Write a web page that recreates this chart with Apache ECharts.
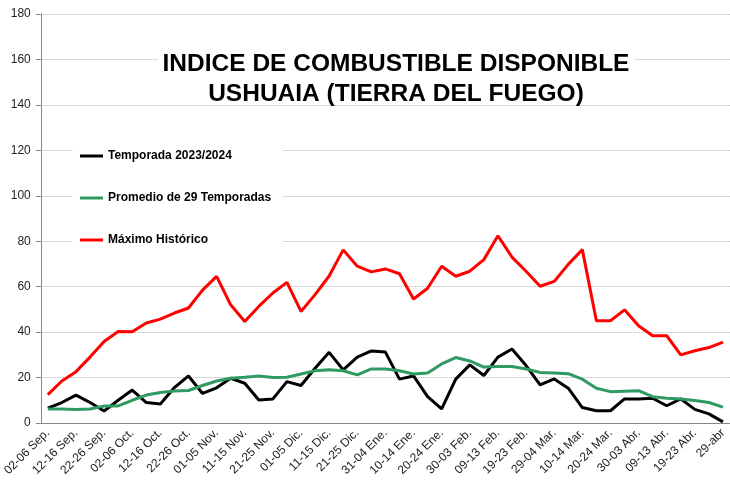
<!DOCTYPE html>
<html>
<head>
<meta charset="utf-8">
<script src="https://cdn.jsdelivr.net/npm/echarts@6/dist/echarts.min.js"></script>
<style>
  html, body { margin: 0; padding: 0; background: #fff; }
  #chart { width: 730px; height: 485px; }
</style>
</head>
<body>
<div id="chart"></div>
<script>
// 5-day periods, Sep 2023 -> Apr 2024
const periods = [
  '02-06 Sep.', '07-11 Sep.', '12-16 Sep.', '17-21 Sep.', '22-26 Sep.', '27-01 Oct.',
  '02-06 Oct.', '07-11 Oct.', '12-16 Oct.', '17-21 Oct.', '22-26 Oct.', '27-31 Oct.',
  '01-05 Nov.', '06-10 Nov.', '11-15 Nov.', '16-20 Nov.', '21-25 Nov.', '26-30 Nov.',
  '01-05 Dic.', '06-10 Dic.', '11-15 Dic.', '16-20 Dic.', '21-25 Dic.', '26-30 Dic.',
  '31-04 Ene.', '05-09 Ene.', '10-14 Ene.', '15-19 Ene.', '20-24 Ene.', '25-29 Ene.',
  '30-03 Feb.', '04-08 Feb.', '09-13 Feb.', '14-18 Feb.', '19-23 Feb.', '24-28 Feb.',
  '29-04 Mar.', '05-09 Mar.', '10-14 Mar.', '15-19 Mar.', '20-24 Mar.', '25-29 Mar.',
  '30-03 Abr.', '04-08 Abr.', '09-13 Abr.', '14-18 Abr.', '19-23 Abr.', '24-28 Abr.',
  '29-abr'
];

const temporada = [
  6.5, 9, 12.3, 9, 5.3, 10, 14.5, 9, 8.4, 15.6, 20.7, 13,
  15.5, 19.7, 17.5, 10.1, 10.6, 18.2, 16.5, 24.1, 31.1, 23.4, 29, 31.7,
  31.2, 19.3, 20.7, 11.6, 6.2, 19.3, 25.6, 20.9, 29, 32.6, 25.3, 16.8,
  19.4, 15.3, 6.8, 5.4, 5.4, 10.6, 10.6, 10.9, 7.6, 10.6, 6, 4, 0.5
];

const promedio = [
  6.2, 6.2, 5.9, 6.2, 7.5, 7.5, 10, 12.3, 13.4, 14.1, 14.3, 16.5,
  18.5, 19.7, 20.1, 20.7, 20, 20.1, 21.6, 23, 23.4, 23, 21.2, 23.8,
  23.8, 23, 21.6, 22, 26, 28.8, 27.3, 24.6, 24.9, 24.9, 23.8, 22.2,
  22, 21.7, 19.3, 15.3, 13.8, 14, 14.2, 11.6, 10.9, 10.6, 9.9, 9, 7
];

const maximo = [
  12.5, 18.5, 22.6, 29, 35.9, 40.3, 40.2, 44, 45.7, 48.4, 50.6, 58.5,
  64.5, 52, 44.7, 51.3, 57.2, 61.9, 49.1, 56.5, 64.7, 76.2, 69, 66.5,
  67.8, 65.7, 54.6, 59.3, 69, 64.6, 66.8, 71.9, 82.4, 73, 66.8, 60.2,
  62.3, 69.8, 76.3, 45, 45, 49.8, 42.8, 38.4, 38.4, 30, 31.8, 33.2, 35.6
];

const yTicks = { min: 0, max: 180, interval: 20 };

const FONT = "'Liberation Sans', Arial, sans-serif";
const AXIS_GREY = '#868686';

function lineSeries(name, data, color) {
  return {
    name, type: 'line', data,
    symbol: 'none',
    lineStyle: { color, width: 3 },
    itemStyle: { color },
    emphasis: { disabled: true },
    animation: false,
  };
}

function titleLine(text, top, bg) {
  return {
    text, left: 391, top, textAlign: 'center',
    backgroundColor: bg ? '#fff' : 'transparent',
    padding: [3, 5, 1, 5],
    textStyle: { fontFamily: FONT, fontSize: 24.5, fontWeight: 'bold', color: '#000', lineHeight: 28 },
  };
}

const chart = echarts.init(document.getElementById('chart'), null, { renderer: 'canvas' });
chart.setOption({
  backgroundColor: '#fff',
  textStyle: { fontFamily: FONT },
  title: [
    titleLine('INDICE DE COMBUSTIBLE DISPONIBLE', 47, true),
    titleLine('USHUAIA (TIERRA DEL FUEGO)', 77, false),
  ],
  legend: {
    orient: 'vertical',
    left: 73, top: 138,
    padding: [12, 11, 12, 7],
    backgroundColor: '#fff',
    icon: 'rect',
    itemWidth: 23, itemHeight: 3, itemGap: 30,
    textStyle: { fontFamily: FONT, fontSize: 12, fontWeight: 'bold', color: '#000' },
    data: ['Temporada 2023/2024', 'Promedio de 29 Temporadas', 'Máximo Histórico'],
  },
  grid: { left: 40, right: -4, top: 14, bottom: 62, containLabel: false },
  xAxis: {
    type: 'category',
    data: periods,
    boundaryGap: true,
    axisLine: { lineStyle: { color: AXIS_GREY, width: 1 } },
    axisTick: { interval: 0, length: 5, lineStyle: { color: AXIS_GREY } },
    axisLabel: { interval: 1, rotate: 45, margin: 8, fontSize: 12, color: '#222', fontFamily: FONT },
    splitLine: { show: false },
  },
  yAxis: {
    type: 'value',
    min: yTicks.min, max: yTicks.max, interval: yTicks.interval,
    axisLine: { show: true, lineStyle: { color: AXIS_GREY, width: 1 } },
    axisTick: { show: true, length: 5, lineStyle: { color: AXIS_GREY } },
    axisLabel: { fontSize: 12, color: '#222', margin: 10, fontFamily: FONT },
    splitLine: { lineStyle: { color: '#b4b4b4', type: 'dotted', width: 1 } },
  },
  series: [
    lineSeries('Temporada 2023/2024', temporada, '#000000'),
    lineSeries('Promedio de 29 Temporadas', promedio, '#2f9a62'),
    lineSeries('Máximo Histórico', maximo, '#ff0000'),
  ],
});
</script>
</body>
</html>
